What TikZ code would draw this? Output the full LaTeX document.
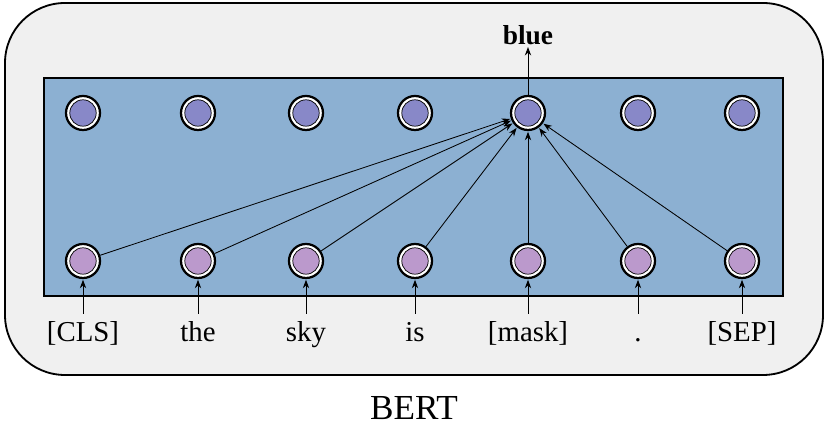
\documentclass[tikz,border=0pt]{standalone}
\usepackage{fontspec}
\setmainfont{Liberation Serif}
\usepackage{xcolor}
\usepackage{tikz}
\usetikzlibrary{positioning,arrows.meta}

\definecolor{outerbg}{HTML}{F0F0F0}
\definecolor{layerbg}{HTML}{8CB0D2}
\definecolor{topfill}{HTML}{8888C8}
\definecolor{botfill}{HTML}{BB99CC}

\begin{document}
\begin{tikzpicture}[
  >={Stealth[length=6pt,width=4.5pt]},
  unit/.style={circle, draw, line width=1.6pt, fill=white, minimum size=0.85cm, inner sep=0pt,
    path picture={\draw[fill=#1, line width=0.5pt] (path picture bounding box.center) circle (0.33cm);}},
  word/.style={font=\fontsize{20.5}{24}\selectfont, inner sep=1pt, anchor=base},
  att/.style={->, line width=0.6pt, shorten >=0.5pt},
]
\useasboundingbox (0,0) rectangle (20.725,10.75);

% Model box and layer
\draw[line width=1.3pt, fill=outerbg, rounded corners=1.5cm] (0.125,1.375) rectangle (20.575,10.675);
\draw[line width=1.3pt, fill=layerbg] (1.1,3.35) rectangle (19.575,8.8);

% Output units
\node[unit=topfill] (t1) at (2.075,7.925) {};
\node[unit=topfill] (t2) at (4.95,7.925) {};
\node[unit=topfill] (t3) at (7.65,7.925) {};
\node[unit=topfill] (t4) at (10.375,7.925) {};
\node[unit=topfill] (t5) at (13.2,7.925) {};
\node[unit=topfill] (t6) at (15.95,7.925) {};
\node[unit=topfill] (t7) at (18.55,7.925) {};

% Input units
\node[unit=botfill] (b1) at (2.075,4.225) {};
\node[unit=botfill] (b2) at (4.95,4.225) {};
\node[unit=botfill] (b3) at (7.65,4.225) {};
\node[unit=botfill] (b4) at (10.375,4.225) {};
\node[unit=botfill] (b5) at (13.2,4.225) {};
\node[unit=botfill] (b6) at (15.95,4.225) {};
\node[unit=botfill] (b7) at (18.55,4.225) {};

% Tokens
\node[word] (w1) at (2.075,2.2) {[CLS]};
\node[word] (w2) at (4.95,2.2) {the};
\node[word] (w3) at (7.65,2.2) {sky};
\node[word] (w4) at (10.375,2.2) {is};
\node[word] (w5) at (13.2,2.2) {[mask]};
\node[word] (w6) at (15.95,2.2) {.};
\node[word] (w7) at (18.55,2.2) {[SEP]};

\node[font=\fontsize{19.5}{24}\selectfont\bfseries, inner sep=1pt] (out) at (13.2,9.875) {blue};
\node[font=\fontsize{25}{30}\selectfont] (bert) at (10.35,0.55) {BERT};

% Token -> input unit
\draw[att] (w1.north |- 0,2.9) -- (b1);
\draw[att] (w2.north |- 0,2.9) -- (b2);
\draw[att] (w3.north |- 0,2.9) -- (b3);
\draw[att] (w4.north |- 0,2.9) -- (b4);
\draw[att] (w5.north |- 0,2.9) -- (b5);
\draw[att] (w6.north |- 0,2.9) -- (b6);
\draw[att] (w7.north |- 0,2.9) -- (b7);

% Attention to the masked position
\draw[att] (b1) -- (t5);
\draw[att] (b2) -- (t5);
\draw[att] (b3) -- (t5);
\draw[att] (b4) -- (t5);
\draw[att] (b5) -- (t5);
\draw[att] (b6) -- (t5);
\draw[att] (b7) -- (t5);

\draw[att] (t5) -- (out);

\end{tikzpicture}
\end{document}
